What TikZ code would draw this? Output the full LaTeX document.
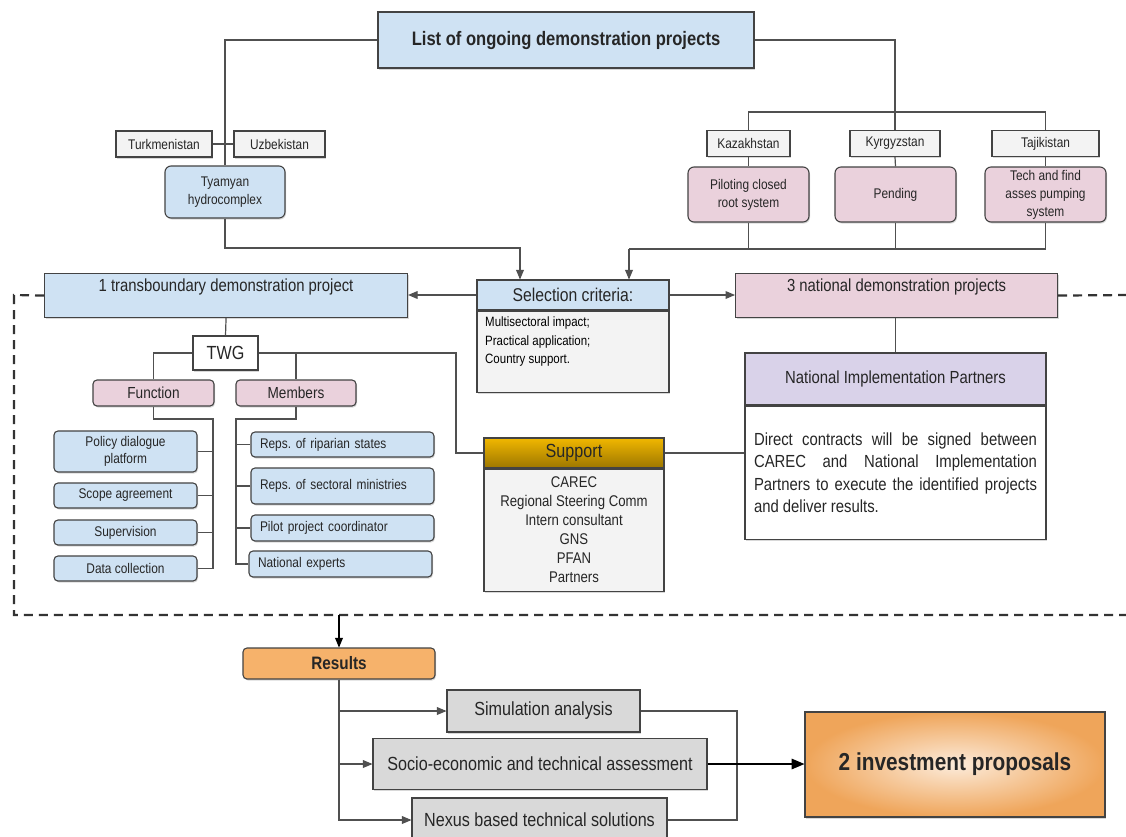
\documentclass[tikz,border=0pt]{standalone}
\usepackage{fontspec}
\setmainfont[FakeStretch=0.85]{Liberation Sans}
\usepackage{tikz}
\usetikzlibrary{arrows}
\usetikzlibrary{shadows}
\frenchspacing

\definecolor{lblue}{HTML}{CFE2F3}
\definecolor{pinkc}{HTML}{EAD1DC}
\definecolor{lgray}{HTML}{F3F3F3}
\definecolor{rgray}{HTML}{D9D9D9}
\definecolor{lav}{HTML}{D9D2E9}
\definecolor{orng}{HTML}{F6B26B}
\definecolor{gold1}{HTML}{F1B700}
\definecolor{gold2}{HTML}{9C7600}
\definecolor{invin}{HTML}{FCEBDA}
\definecolor{invout}{HTML}{EFA55A}
\definecolor{bord}{HTML}{434343}
\definecolor{lin}{HTML}{505050}

\begin{document}
\begin{tikzpicture}[x=1pt, y=-1pt, >=triangle 45,
  boxbase/.style={draw=bord, line width=1.1pt, inner sep=0pt, text=black!85,
    font=\fontsize{14}{17}\selectfont,
    drop shadow={shadow xshift=1pt, shadow yshift=-1.5pt, opacity=0.3}},
  blue box/.style={boxbase, fill=lblue},
  pink box/.style={boxbase, fill=pinkc, rounded corners=6pt, minimum width=121pt, minimum height=55pt, align=center, font=\fontsize{14}{18}\selectfont},
  country/.style={boxbase, fill=lgray, minimum height=26pt},
  fitem/.style={boxbase, fill=lblue, rounded corners=4pt, minimum width=143pt, minimum height=25pt, align=center},
  mitem/.style={boxbase, fill=lblue, rounded corners=4pt, text width=165pt, inner xsep=9pt, align=left, minimum height=26pt},
  rbox/.style={boxbase, fill=rgray, font=\fontsize{19}{22}\selectfont},
  conn/.style={draw=lin, line width=1.2pt},
  arr/.style={conn, ->},
  dashframe/.style={draw=black!80, line width=2.2pt, dash pattern=on 9pt off 6pt}]

\fill[white] (0,0) rectangle (1126,836);
\useasboundingbox (0,0) rectangle (1126,836);

% top of the tree
\node[blue box, minimum width=376pt, minimum height=56pt, font=\fontsize{19.5}{22}\selectfont\bfseries] (list) at (566,40) {List of ongoing demonstration projects};

\node[country, minimum width=96pt] (turk) at (164,144) {Turkmenistan};
\node[country, minimum width=91pt] (uzb) at (279.5,144) {Uzbekistan};
\node[blue box, rounded corners=6pt, minimum width=120pt, minimum height=52pt, align=center, font=\fontsize{14}{18}\selectfont] (tyam) at (225,192) {Tyamyan\\hydrocomplex};

\node[country, minimum width=83pt] (kaz) at (748.5,143.5) {Kazakhstan};
\node[country, minimum width=90pt] (kyr) at (895,143.5) {Kyrgyzstan};
\node[country, minimum width=107pt] (taj) at (1045.5,143.5) {Tajikistan};
\node[pink box] (kazp) at (748.5,194.5) {Piloting closed\\root system};
\node[pink box] (kyrp) at (895.5,194.5) {Pending};
\node[pink box] (tajp) at (1045.5,194.5) {Tech and find\\asses pumping\\system};

% selection
\node[blue box, minimum width=192pt, minimum height=30pt, font=\fontsize{18.5}{22}\selectfont] (selh) at (573,295) {Selection criteria:};
\node[boxbase, fill=lgray, anchor=north, minimum width=192pt, minimum height=81pt] (selb) at (selh.south) {};
\node[anchor=north west, align=left, inner sep=0pt, font=\fontsize{13.5}{18.5}\selectfont] (seltxt) at (485,317) {Multisectoral impact;\\Practical application;\\Country support.};

\node[blue box, anchor=north west, minimum width=363pt, text height=18pt, text depth=26pt, font=\fontsize{17.5}{20}\selectfont] (trans) at (44,273) {1 transboundary demonstration project};
\node[boxbase, fill=pinkc, anchor=north west, minimum width=322pt, text height=18pt, text depth=26pt, font=\fontsize{17.5}{20}\selectfont] (nat) at (735,273) {3 national demonstration projects};

% TWG part
\node[boxbase, fill=white, minimum width=65pt, minimum height=34pt, font=\fontsize{19}{22}\selectfont] (twg) at (225.5,353) {TWG};
\node[boxbase, fill=pinkc, rounded corners=4pt, minimum width=121pt, minimum height=26pt, font=\fontsize{16}{19}\selectfont] (fun) at (153.5,393) {Function};
\node[boxbase, fill=pinkc, rounded corners=4pt, minimum width=120pt, minimum height=26pt, font=\fontsize{16}{19}\selectfont] (mem) at (296,393) {Members};

\node[fitem, minimum height=41pt] (pol) at (125.5,451.5) {Policy dialogue\\platform};
\node[fitem] (sco) at (125.5,495.5) {Scope agreement};
\node[fitem] (supv) at (125.5,532.5) {Supervision};
\node[fitem] (dat) at (125.5,568.5) {Data collection};

\node[mitem, minimum height=25pt] (rip) at (342.5,444.5) {Reps.\ of riparian states};
\node[mitem, minimum height=36pt] (sec) at (342.5,486) {Reps.\ of sectoral ministries};
\node[mitem] (pilc) at (342.5,528) {Pilot project coordinator};
\node[mitem] (nexp) at (340.5,564) {National experts};

% support
\node[boxbase, top color=gold1, bottom color=gold2, minimum width=180pt, minimum height=30pt, font=\fontsize{19}{22}\selectfont] (supph) at (574,453) {Support};
\node[boxbase, fill=lgray, anchor=north, minimum width=180pt, minimum height=122pt, align=center, font=\fontsize{15.5}{19}\selectfont] (suppb) at (supph.south) {CAREC\\Regional Steering Comm\\Intern consultant\\GNS\\PFAN\\Partners};

% national partners
\node[boxbase, fill=lav, minimum width=301pt, minimum height=52pt, font=\fontsize{17.5}{20}\selectfont] (niph) at (895.5,379) {National Implementation Partners};
\node[boxbase, fill=white, anchor=north, minimum width=301pt, minimum height=133pt, text width=283pt, align=justify, font=\fontsize{17.5}{22.5}\selectfont] (nipb) at (niph.south) {Direct contracts will be signed between\linebreak CAREC and National Implementation\linebreak Partners to execute the identified projects\linebreak and deliver results.};

% results
\node[boxbase, fill=orng, rounded corners=4pt, minimum width=192pt, minimum height=31pt, font=\fontsize{18}{20}\selectfont\bfseries] (res) at (339,663.5) {Results};
\node[rbox, minimum width=193pt, minimum height=42pt] (sim) at (543.5,711) {Simulation analysis};
\node[rbox, minimum width=334pt, minimum height=51pt] (soc) at (540,764) {Socio-economic and technical assessment};
\node[rbox, minimum width=255pt, minimum height=44pt] (nex) at (539.5,820) {Nexus based technical solutions};
\node[boxbase, inner color=invin, outer color=invout, minimum width=300pt, minimum height=105pt, font=\fontsize{24.5}{28}\selectfont\bfseries] (inv) at (955,764.5) {2 investment proposals};

% connectors
\draw[conn] (list.west) -| (tyam.north);
\draw[conn] (turk.east) -- (uzb.west);
\coordinate (joinA) at (520,248);
\draw[arr] (tyam.south) |- (joinA) -- (joinA |- selh.north);

\coordinate (capJ) at (895,112);
\draw[conn] (list.east) -| (kyr.north);
\draw[conn] (kaz.north) |- (capJ) -| (taj.north);
\draw[conn] (kaz.south) -- (kazp.north);
\draw[conn] (kyr.south) -- (kyrp.north);
\draw[conn] (taj.south) -- (tajp.north);
\coordinate (joinB) at (629,249);
\draw[conn] (tajp.south) |- (joinB);
\draw[conn] (kazp.south) -- (kazp.south |- joinB);
\draw[conn] (kyrp.south) -- (kyrp.south |- joinB);
\draw[arr] (joinB) -- (joinB |- selh.north);

\draw[arr] (selh.west) -- (selh.west -| trans.east);
\draw[arr] (selh.east) -- (selh.east -| nat.west);

\coordinate (fa) at (14,295);
\coordinate (fb) at (14,615);
\coordinate (fc) at (1130,615);
\coordinate (fd) at (1130,295);
\draw[dashframe] (trans.west) -- (fa) -- (fb) -- (fc);
\draw[dashframe] (nat.east) -- (fd);

\draw[conn] (trans.south) -- (twg.north);
\draw[conn] (twg.west) -| (fun.north);
\draw[conn] (twg.east) -| (mem.north);
\coordinate (suppJ) at (456,453);
\draw[conn] (twg.east) -| (suppJ) -- (supph.west);
\draw[conn] (supph.east) -- (supph.east -| nipb.west);
\draw[conn] (niph.north |- nat.south) -- (niph.north);

\coordinate (funJ) at (213,419);
\draw[conn] (fun.south) |- (funJ) -- (funJ |- dat.east) -- (dat.east);
\foreach \n in {pol,sco,supv} \draw[conn] (\n.east) -- (\n.east -| funJ);
\coordinate (memJ) at (236,419);
\draw[conn] (mem.south) |- (memJ) -- (memJ |- nexp.west) -- (nexp.west);
\foreach \n in {rip,sec,pilc} \draw[conn] (\n.west -| memJ) -- (\n.west);

\draw[arr, draw=black] (res.north |- fb) -- (res.north);
\draw[arr] (res.south) |- (sim.west);
\draw[arr] (res.south) |- (soc.west);
\draw[arr] (res.south) |- (nex.west);
\coordinate (outJ) at (737,764);
\draw[conn] (sim.east) -| (outJ) |- (nex.east);
\draw[arr, draw=black, line width=2pt] (soc.east) -- (soc.east -| inv.west);

\end{tikzpicture}
\end{document}
